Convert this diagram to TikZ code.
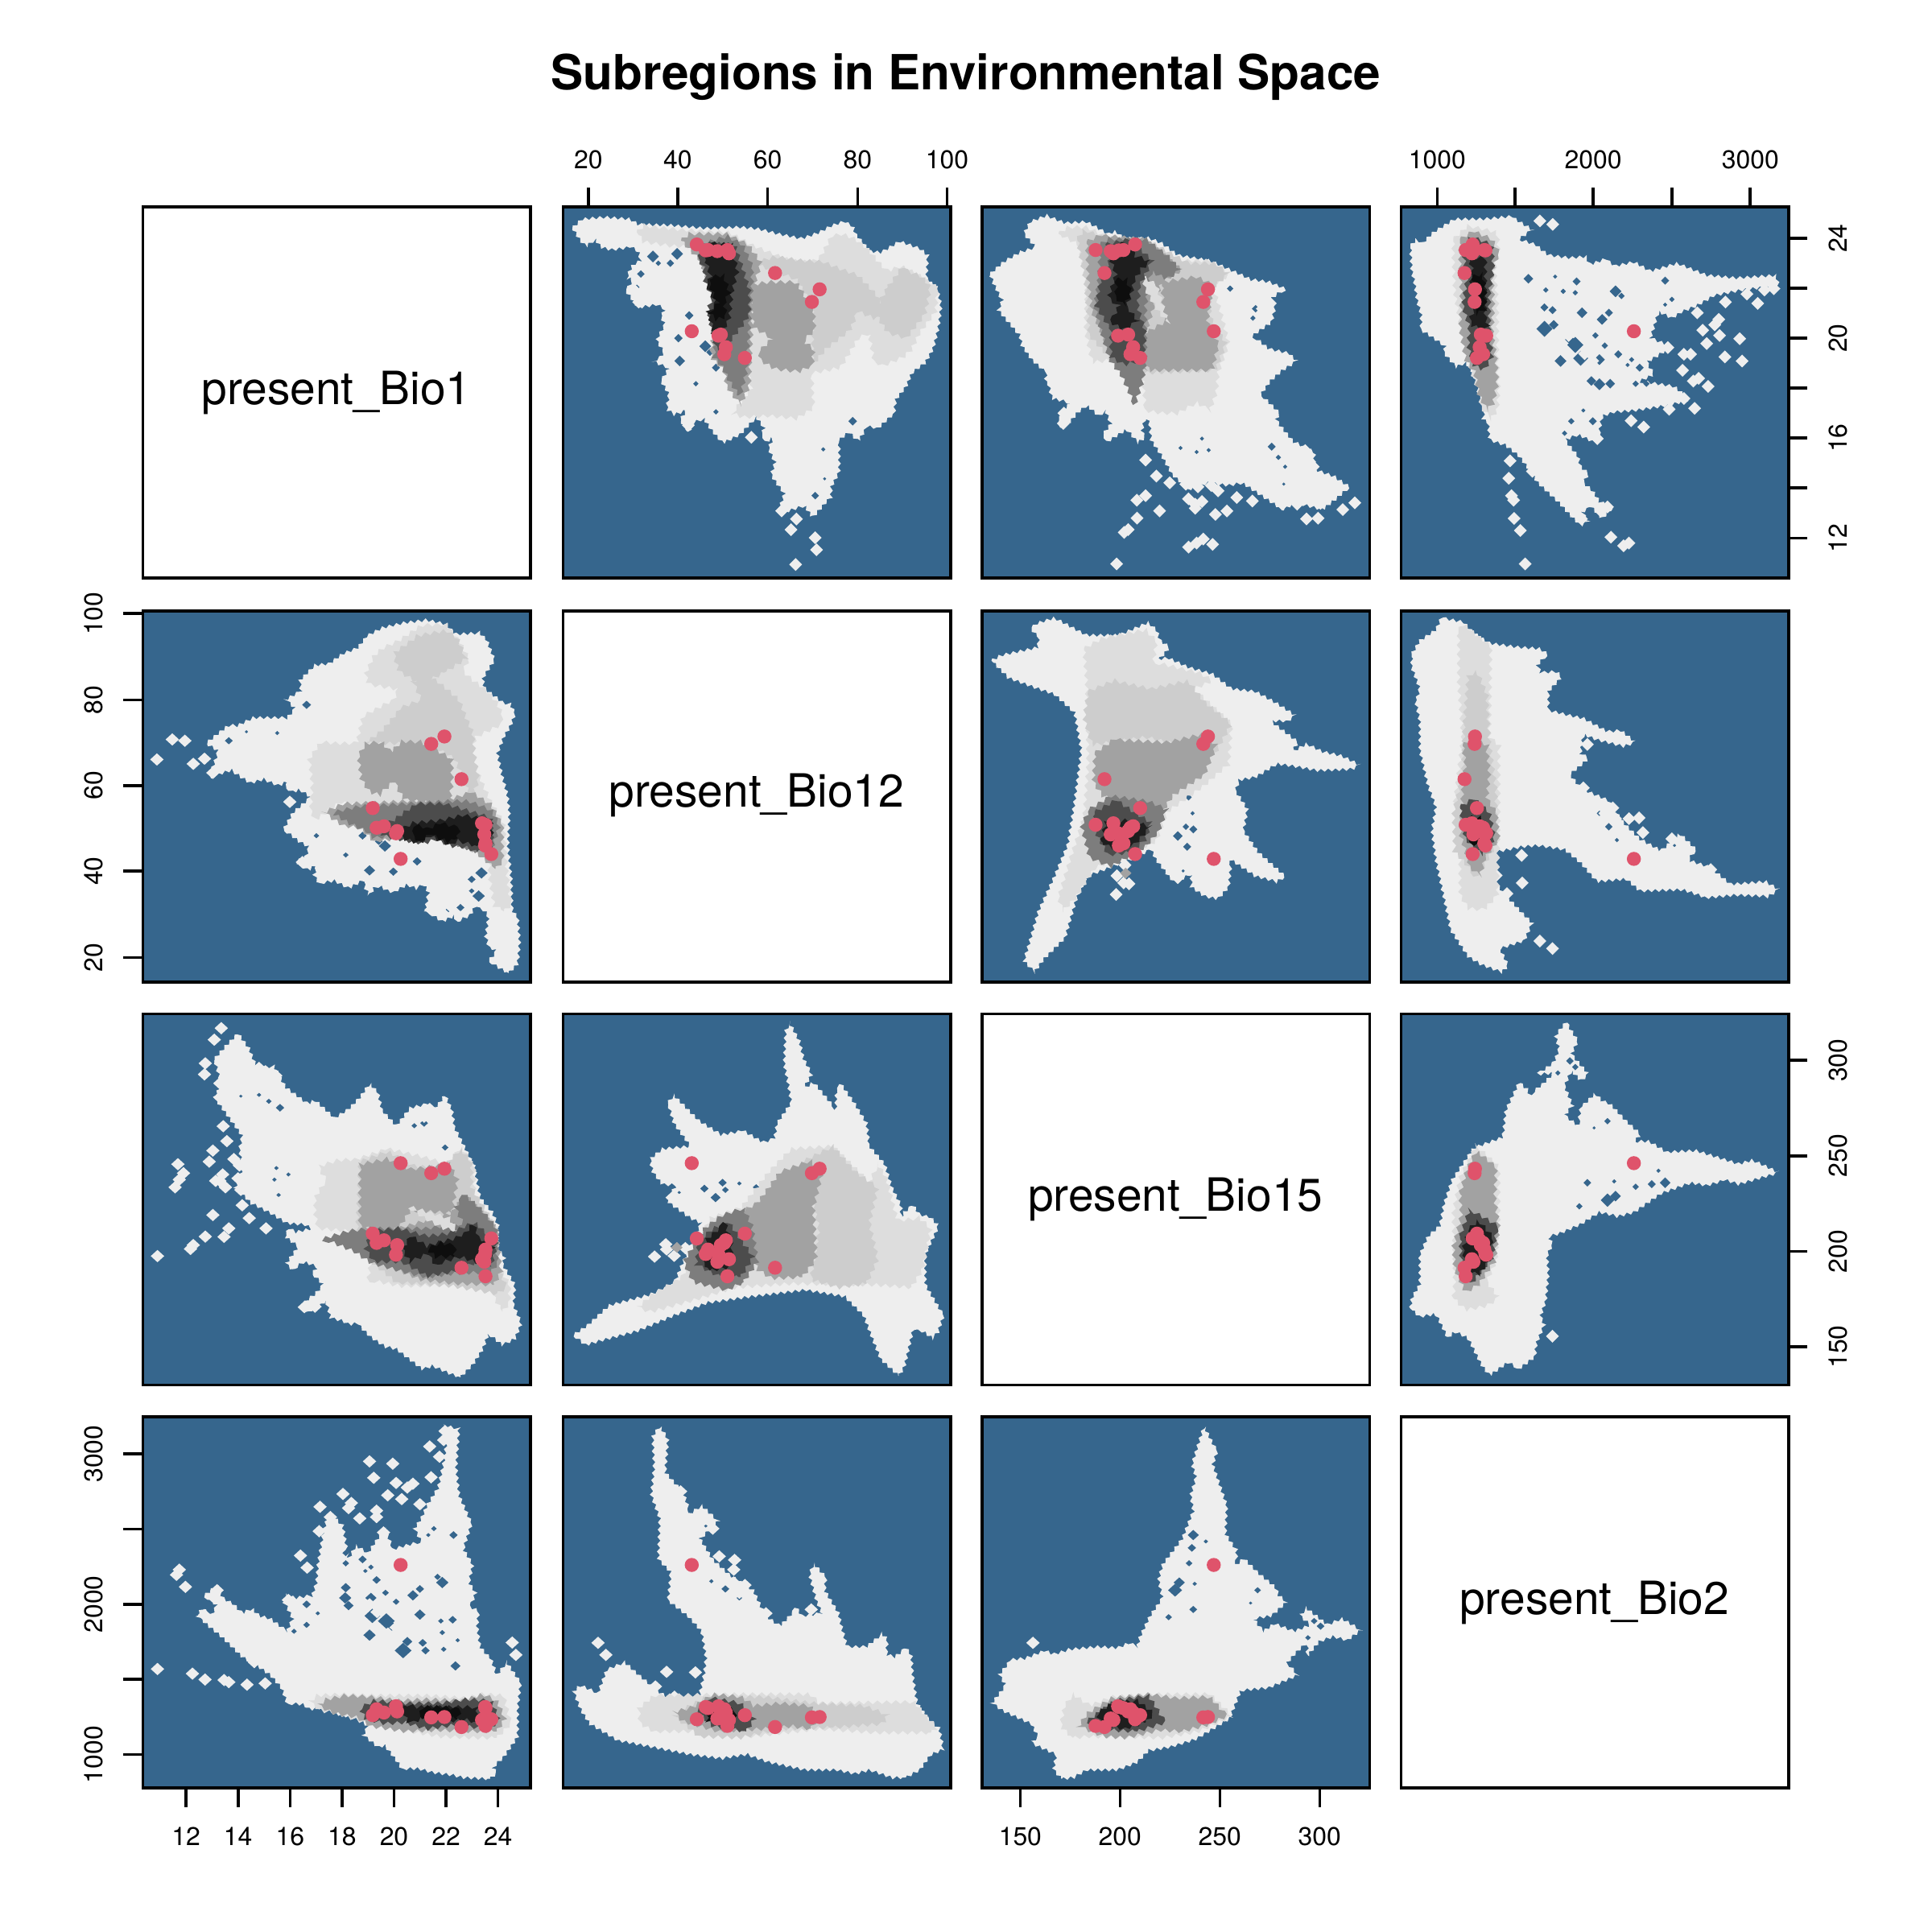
\documentclass[tikz,border=0pt]{standalone}
\usepackage{fontspec}
\setmainfont{TeX Gyre Heros}
\usetikzlibrary{decorations.pathmorphing}
\definecolor{plotBlue}{RGB}{54,102,141}
\definecolor{subRed}{RGB}{223,83,107}
\definecolor{shadeA}{RGB}{238,238,238}
\definecolor{shadeB}{RGB}{221,221,221}
\definecolor{shadeC}{RGB}{205,205,205}
\definecolor{shadeD}{RGB}{162,162,162}
\definecolor{shadeE}{RGB}{125,125,125}
\definecolor{shadeF}{RGB}{76,76,76}
\definecolor{shadeG}{RGB}{30,30,30}
\definecolor{shadeH}{RGB}{14,14,14}
\tikzset{
    shell/.style={
        fill=shadeA,
        decorate,
        decoration={zigzag, segment length=1.9pt, amplitude=0.4pt}
    },
    cloud/.style={
        fill=#1,
        decorate,
        decoration={zigzag, segment length=2.4pt, amplitude=0.5pt}
    },
    gap/.style={
        fill=plotBlue
    },
    plotbox/.style={
        draw=black,
        line width=0.75pt
    },
    axistick/.style={
        draw=black,
        line width=0.75pt
    },
    ticklabel/.style={
        font=\fontsize{6.7}{8}\selectfont,
        inner sep=0pt
    },
    varlabel/.style={
        font=\fontsize{11.95}{14}\selectfont,
        inner sep=0pt,
        anchor=base
    },
    subregion/.style={
        fill=subRed
    }
}
% stray points of a cloud, and the gaps in it
\newcommand{\strays}[1]{
  \foreach \p in {#1}
    \fill[shadeA] \p ++(-24,0) -- ++(24,24) -- ++(24,-24) -- ++(-24,-24) -- cycle;
}
\newcommand{\gaps}[1]{
  \foreach \hx/\hy/\hr in {#1}
    \fill[gap] ({\hx-\hr},\hy) -- (\hx,{\hy+\hr}) -- ({\hx+\hr},\hy) -- (\hx,{\hy-\hr}) -- cycle;
}
% Bio12 against Bio1
\newcommand{\shapeA}{
  \fill[shell] (65,108) -- (100,75) -- (185,68) -- (280,75) -- (310,95) -- (430,98) -- (560,110) -- (690,105) -- (760,112) -- (830,130) -- (920,148) -- (985,125) -- (1030,100) -- (1075,85) -- (1110,100) -- (1120,130) -- (1175,195) -- (1215,200) -- (1285,158) -- (1360,185) -- (1390,210) -- (1385,300) -- (1425,330) -- (1440,400) -- (1430,480) -- (1410,560) -- (1380,612) -- (1330,650) -- (1310,700) -- (1270,750) -- (1265,800) -- (1205,855) -- (1165,850) -- (1130,905) -- (1095,870) -- (1060,900) -- (1060,1020) -- (1030,1075) -- (1030,1110) -- (960,1190) -- (930,1145) -- (870,1165) -- (830,1175) -- (855,1100) -- (825,1060) -- (805,1030) -- (820,985) -- (795,930) -- (815,890) -- (790,905) -- (770,880) -- (780,855) -- (750,815) -- (690,880) -- (625,912) -- (580,860) -- (555,820) -- (515,835) -- (500,870) -- (465,825) -- (490,790) -- (445,805) -- (415,785) -- (425,730) -- (395,680) -- (425,630) -- (395,620) -- (365,605) -- (395,590) -- (405,570) -- (385,540) -- (380,520) -- (410,470) -- (395,440) -- (410,410) -- (380,395) -- (310,405) -- (265,345) -- (290,300) -- (265,295) -- (290,245) -- (320,230) -- (310,195) -- (285,180) -- (210,190) -- (170,180) -- (150,150) -- (115,178) -- (90,150) -- cycle;
  \gaps{365/215/22, 385/240/10, 455/205/22, 430/240/14, 320/280/14, 305/330/10, 500/435/16, 460/520/16, 560/550/22, 578/572/14, 465/605/20, 600/630/15, 525/690/10, 600/795/10, 970/1108/14, 1005/1045/6, 1000/935/8, 1110/830/16}
  \strays{(732,890),(880,1235),(897,1365),(970,1265),(975,1310),(900,1195),(497,845),(845,1165),(312,385),(300,345)}
  \fill[cloud=shadeB] (305,125) -- (330,100) -- (470,115) -- (650,125) -- (730,170) -- (800,200) -- (880,230) -- (950,235) -- (985,225) -- (1030,140) -- (1070,130) -- (1120,150) -- (1170,190) -- (1205,235) -- (1240,270) -- (1290,250) -- (1350,280) -- (1425,330) -- (1420,420) -- (1360,500) -- (1330,560) -- (1300,590) -- (1230,620) -- (1190,610) -- (1170,500) -- (1130,520) -- (1065,630) -- (960,650) -- (960,720) -- (965,780) -- (900,820) -- (800,810) -- (700,815) -- (660,800) -- (730,710) -- (720,640) -- (630,220) -- (540,180) -- (430,175) -- (330,160) -- cycle;
  \fill[cloud=shadeC] (740,240) -- (820,215) -- (920,230) -- (1000,235) -- (1060,260) -- (1130,285) -- (1200,360) -- (1230,410) -- (1200,450) -- (1130,420) -- (1100,490) -- (1010,560) -- (960,620) -- (960,500) -- (960,400) -- (900,300) -- cycle;
  \fill[cloud=shadeC] (1240,330) -- (1290,260) -- (1370,290) -- (1400,330) -- (1380,430) -- (1310,520) -- (1240,500) -- (1190,420) -- cycle;
  \fill[cloud=shadeD] (730,320) -- (800,310) -- (900,310) -- (965,420) -- (968,490) -- (925,530) -- (965,560) -- (960,620) -- (910,645) -- (820,635) -- (770,605) -- (760,570) -- (810,520) -- (740,480) -- (730,400) -- cycle;
  \fill[cloud=shadeD] (470,155) -- (500,130) -- (640,130) -- (720,170) -- (770,240) -- (745,310) -- (735,470) -- (730,560) -- (725,700) -- (690,770) -- (640,700) -- (630,640) -- (580,590) -- (585,530) -- (640,450) -- (580,330) -- (540,230) -- cycle;
  \fill[cloud=shadeE] (540,170) -- (640,140) -- (700,170) -- (735,250) -- (735,320) -- (725,470) -- (715,640) -- (690,740) -- (650,680) -- (620,620) -- (590,590) -- (600,530) -- (640,450) -- (580,330) -- (540,230) -- cycle;
  \fill[cloud=shadeF] (535,220) -- (560,165) -- (670,170) -- (700,260) -- (725,340) -- (725,430) -- (700,470) -- (660,520) -- (640,560) -- (600,560) -- (580,470) -- (570,410) -- (585,370) -- (560,310) -- (555,260) -- cycle;
  \fill[cloud=shadeG] (560,220) -- (575,165) -- (660,170) -- (680,270) -- (660,350) -- (650,450) -- (620,500) -- (590,490) -- (570,425) -- (600,390) -- (565,320) -- (580,290) -- cycle;
  \fill[cloud=shadeH] (590,290) -- (630,285) -- (650,350) -- (630,390) -- (640,440) -- (600,450) -- (575,425) -- (605,390) -- (575,320) -- cycle;
}
% Bio15 against Bio1
\newcommand{\shapeB}{
  \fill[shell] (60,280) -- (110,235) -- (170,200) -- (230,180) -- (185,130) -- (210,85) -- (270,62) -- (340,90) -- (420,85) -- (500,130) -- (530,120) -- (560,150) -- (650,145) -- (700,165) -- (760,210) -- (880,230) -- (1000,285) -- (1030,300) -- (1100,310) -- (1160,335) -- (1130,355) -- (1100,380) -- (1125,395) -- (1110,460) -- (1060,495) -- (1040,510) -- (1100,560) -- (1170,575) -- (1205,605) -- (1150,640) -- (1105,680) -- (1070,730) -- (1140,800) -- (1125,825) -- (1190,905) -- (1270,945) -- (1270,1010) -- (1340,1035) -- (1400,1075) -- (1350,1120) -- (1300,1160) -- (1200,1135) -- (1150,1160) -- (1060,1100) -- (1000,1060) -- (950,1070) -- (870,1060) -- (800,1085) -- (740,1030) -- (700,960) -- (660,900) -- (655,840) -- (640,810) -- (625,870) -- (640,890) -- (610,910) -- (570,860) -- (500,905) -- (480,880) -- (510,840) -- (490,790) -- (465,810) -- (420,770) -- (385,800) -- (360,830) -- (330,855) -- (315,830) -- (335,785) -- (360,760) -- (290,745) -- (280,700) -- (265,680) -- (270,650) -- (215,600) -- (180,550) -- (170,510) -- (90,415) -- (105,380) -- (75,320) -- cycle;
  \gaps{955/335/12, 1050/410/14, 1040/445/10, 1110/925/15, 1135/965/10, 1160/1000/8, 850/895/8, 770/930/8, 830/945/8, 875/938/8, 1155/1065/6}
  \strays{(640,975),(680,1035),(730,1060),(790,1065),(835,1075),(885,1070),(910,1090),(980,1115),(1038,1128),(607,1125),(640,1108),(692,1165),(608,1192),(575,1235),(560,1245),(800,1300),(830,1285),(855,1270),(890,1290),(825,1140),(800,1120),(825,1155),(850,1130),(900,1178),(943,1165),(532,1363),(1150,1140),(1205,1140),(1240,1195),(1283,1192),(1292,1137),(1375,1160),(1420,1135),(1235,940),(1265,1000),(335,800),(333,838),(1105,390),(1075,410)}
  \fill[cloud=shadeB] (315,130) -- (350,105) -- (420,105) -- (500,145) -- (640,150) -- (760,230) -- (880,230) -- (960,280) -- (890,320) -- (920,420) -- (950,540) -- (910,650) -- (905,720) -- (880,790) -- (830,760) -- (760,800) -- (700,800) -- (640,790) -- (630,680) -- (610,640) -- (520,600) -- (440,610) -- (415,490) -- (420,300) -- (390,170) -- cycle;
  \fill[cloud=shadeC] (385,150) -- (410,115) -- (500,150) -- (640,150) -- (800,240) -- (900,240) -- (950,280) -- (880,340) -- (880,440) -- (940,540) -- (900,640) -- (640,650) -- (530,620) -- (430,510) -- (415,310) -- cycle;
  \fill[cloud=shadeD] (700,310) -- (770,300) -- (830,290) -- (890,320) -- (870,460) -- (910,540) -- (890,640) -- (650,640) -- (625,560) -- (640,500) -- (710,460) -- cycle;
  \fill[cloud=shadeD] (420,160) -- (470,135) -- (640,150) -- (775,265) -- (700,310) -- (640,500) -- (640,640) -- (520,600) -- (440,420) -- (425,300) -- cycle;
  \fill[cloud=shadeE] (470,170) -- (500,150) -- (640,150) -- (720,210) -- (770,265) -- (720,300) -- (660,270) -- (640,400) -- (640,600) -- (630,680) -- (600,770) -- (550,660) -- (505,600) -- (470,480) -- (450,400) -- (465,300) -- cycle;
  \fill[cloud=shadeB] (630,290) -- (680,320) -- (725,465) -- (680,410) -- (640,340) -- cycle;
  \fill[cloud=shadeF] (490,170) -- (580,150) -- (665,230) -- (620,320) -- (610,400) -- (640,500) -- (630,600) -- (560,620) -- (510,590) -- (510,490) -- (455,400) -- (470,310) -- (510,220) -- cycle;
  \fill[cloud=shadeG] (510,180) -- (570,160) -- (600,210) -- (660,235) -- (625,260) -- (600,300) -- (585,360) -- (570,400) -- (610,455) -- (560,490) -- (510,460) -- (540,400) -- (500,370) -- (530,280) -- (510,230) -- cycle;
  \fill[cloud=shadeH] (530,300) -- (570,300) -- (585,350) -- (560,400) -- (530,370) -- cycle;
}
% Bio2 against Bio1
\newcommand{\shapeC}{
  \fill[shell] (65,175) -- (88,150) -- (110,165) -- (150,125) -- (230,75) -- (340,75) -- (440,65) -- (520,115) -- (470,150) -- (530,170) -- (580,210) -- (660,220) -- (720,215) -- (735,245) -- (790,225) -- (830,250) -- (900,235) -- (960,270) -- (1060,240) -- (1170,285) -- (1280,295) -- (1430,285) -- (1440,335) -- (1380,330) -- (1300,340) -- (1200,360) -- (1130,400) -- (1080,420) -- (1040,445) -- (990,420) -- (970,490) -- (960,520) -- (1040,550) -- (980,590) -- (945,610) -- (975,655) -- (920,680) -- (1050,700) -- (1105,750) -- (1030,770) -- (900,790) -- (830,795) -- (780,810) -- (770,870) -- (780,900) -- (755,910) -- (690,880) -- (640,900) -- (690,960) -- (700,1000) -- (730,1025) -- (710,1060) -- (745,1090) -- (770,1130) -- (820,1150) -- (780,1195) -- (740,1150) -- (705,1170) -- (730,1205) -- (700,1220) -- (660,1180) -- (620,1135) -- (540,1060) -- (500,1000) -- (470,960) -- (420,920) -- (360,900) -- (355,840) -- (335,820) -- (345,760) -- (320,730) -- (300,650) -- (270,610) -- (235,628) -- (190,575) -- (195,550) -- (130,505) -- (105,490) -- (105,430) -- (90,380) -- (80,310) -- (70,270) -- cycle;
  \gaps{505/298/18, 570/340/10, 635/345/10, 680/350/10, 565/405/15, 595/415/15, 685/308/15, 705/425/20, 565/485/30, 600/470/18, 680/545/30, 700/595/28, 660/525/18, 625/605/22, 830/345/22, 852/362/12, 780/450/20, 805/425/15, 755/510/12, 790/548/12, 840/580/15, 770/600/20, 740/680/18, 770/692/22, 810/690/18, 920/630/15, 890/600/10, 905/690/12, 945/690/12, 665/830/12, 710/790/8, 745/830/15, 1015/305/15, 1040/375/10, 1015/395/8, 875/620/8, 605/290/8, 640/875/10}
  \strays{(548,82),(596,95),(1135,425),(1240,385),(1320,355),(1385,340),(1420,335),(1360,390),(1215,450),(1200,470),(1155,490),(1170,540),(1218,510),(1293,522),(1238,590),(1302,605),(1085,580),(1110,580),(1025,555),(1080,640),(1120,680),(1175,700),(1140,670),(1125,782),(1030,785),(1085,745),(888,828),(935,852),(762,895),(437,978),(432,1043),(520,1017),(442,1108),(450,1125),(452,1193),(475,1238),(703,1195),(775,1165),(800,1150),(813,1263),(860,1295),(880,1285),(493,1363),(655,510),(715,578),(745,605)}
  \fill[cloud=shadeB] (225,150) -- (280,100) -- (390,125) -- (395,200) -- (380,260) -- (390,400) -- (390,600) -- (395,700) -- (390,790) -- (365,820) -- (330,780) -- (320,720) -- (290,640) -- (260,520) -- (230,350) -- (225,220) -- cycle;
  \fill[cloud=shadeD] (250,150) -- (300,120) -- (370,150) -- (395,200) -- (370,270) -- (375,400) -- (370,500) -- (385,600) -- (390,690) -- (375,760) -- (350,790) -- (320,730) -- (305,650) -- (270,600) -- (250,480) -- (255,360) -- (250,240) -- cycle;
  \fill[cloud=shadeF] (260,180) -- (290,140) -- (370,170) -- (375,260) -- (360,350) -- (360,480) -- (370,590) -- (340,640) -- (300,620) -- (280,550) -- (285,480) -- (260,400) -- (275,300) -- cycle;
  \fill[cloud=shadeG] (285,220) -- (345,220) -- (345,330) -- (345,440) -- (355,470) -- (340,490) -- (290,470) -- (285,450) -- (305,410) -- (290,330) -- (295,260) -- cycle;
  \fill[cloud=shadeH] (295,290) -- (335,280) -- (345,340) -- (345,410) -- (310,430) -- (300,400) -- (320,360) -- cycle;
}
% Bio15 against Bio12
\newcommand{\shapeD}{
  \fill[shell] (65,215) -- (100,195) -- (240,165) -- (240,130) -- (212,95) -- (235,75) -- (300,55) -- (420,120) -- (540,120) -- (650,72) -- (680,100) -- (695,140) -- (730,165) -- (700,200) -- (670,210) -- (725,205) -- (800,240) -- (890,265) -- (960,320) -- (1050,330) -- (1130,375) -- (1200,420) -- (1170,440) -- (1105,440) -- (1210,520) -- (1180,560) -- (1240,525) -- (1300,555) -- (1370,570) -- (1440,605) -- (1410,620) -- (1280,625) -- (1200,610) -- (1130,600) -- (1090,625) -- (1050,650) -- (990,660) -- (975,700) -- (1020,770) -- (1005,850) -- (1060,930) -- (1160,1020) -- (1130,1040) -- (1050,1020) -- (960,960) -- (950,1060) -- (910,1105) -- (860,1095) -- (810,1060) -- (810,1010) -- (750,1045) -- (730,1025) -- (700,985) -- (680,960) -- (660,920) -- (600,950) -- (500,990) -- (420,1020) -- (380,1110) -- (340,1250) -- (260,1330) -- (225,1378) -- (185,1335) -- (200,1290) -- (240,1150) -- (300,1020) -- (350,900) -- (375,740) -- (400,550) -- (375,410) -- (300,340) -- (240,320) -- (130,280) -- cycle;
  \gaps{760/870/18, 790/835/12, 818/845/15, 795/910/15, 800/725/12, 815/785/8, 780/1000/6}
  \strays{(563,978),(533,1018),(558,1045),(578,1048),(530,1088),(760,1025)}
  \fill[shadeD] (565,988) -- (587,1008) -- (565,1030) -- (545,1008) -- cycle;
  \fill[cloud=shadeB] (410,170) -- (480,130) -- (640,100) -- (680,140) -- (670,220) -- (840,260) -- (890,290) -- (820,320) -- (960,450) -- (950,600) -- (860,680) -- (720,780) -- (680,890) -- (450,990) -- (380,1100) -- (330,1150) -- (315,1100) -- (360,950) -- (410,800) -- (425,600) -- (420,300) -- cycle;
  \fill[cloud=shadeC] (425,330) -- (520,290) -- (660,320) -- (800,290) -- (860,370) -- (960,450) -- (900,560) -- (640,500) -- (440,530) -- (410,430) -- cycle;
  \fill[cloud=shadeD] (450,560) -- (520,510) -- (720,520) -- (850,490) -- (905,530) -- (860,640) -- (740,720) -- (690,800) -- (480,720) -- (445,670) -- cycle;
  \fill[cloud=shadeE] (430,770) -- (510,720) -- (650,740) -- (720,770) -- (690,850) -- (640,910) -- (510,985) -- (430,950) -- (400,830) -- cycle;
  \fill[cloud=shadeF] (450,780) -- (530,735) -- (580,770) -- (660,820) -- (640,880) -- (590,930) -- (500,940) -- (455,860) -- cycle;
  \fill[cloud=shadeG] (475,890) -- (490,820) -- (570,810) -- (660,835) -- (600,900) -- (510,915) -- cycle;
}
% Bio2 against Bio12
\newcommand{\shapeE}{
  \fill[shell] (70,190) -- (100,140) -- (160,100) -- (180,55) -- (260,70) -- (300,110) -- (360,150) -- (470,165) -- (550,170) -- (575,190) -- (540,230) -- (550,260) -- (610,255) -- (630,275) -- (580,330) -- (580,400) -- (660,420) -- (710,430) -- (800,480) -- (850,475) -- (905,520) -- (860,535) -- (760,510) -- (710,490) -- (700,560) -- (730,580) -- (660,640) -- (700,690) -- (730,705) -- (800,735) -- (860,820) -- (920,880) -- (1000,925) -- (1070,860) -- (1130,920) -- (1100,960) -- (1180,985) -- (1260,1050) -- (1390,1040) -- (1440,1070) -- (1400,1095) -- (1280,1090) -- (1170,1100) -- (1080,1070) -- (920,1075) -- (870,1030) -- (760,1040) -- (700,970) -- (640,920) -- (540,905) -- (480,910) -- (380,930) -- (340,980) -- (410,1080) -- (480,1155) -- (520,1195) -- (490,1260) -- (400,1290) -- (430,1355) -- (405,1378) -- (330,1350) -- (280,1320) -- (215,1220) -- (190,1100) -- (160,960) -- (145,850) -- (160,760) -- (130,680) -- (100,550) -- (100,440) -- (85,370) -- (100,320) -- (70,240) -- cycle;
  \gaps{805/835/14, 835/885/8, 770/785/10, 1050/905/6}
  \strays{(725,528),(1040,880),(480,942),(385,1017),(482,1045),(425,1085),(548,1262),(595,1290),(790,785),(820,765),(830,805),(880,805),(918,802),(932,857),(710,690),(1185,995)}
  \fill[cloud=shadeB] (245,100) -- (265,75) -- (300,110) -- (365,160) -- (360,500) -- (395,530) -- (395,800) -- (390,1090) -- (340,1145) -- (280,1140) -- (250,1090) -- (250,800) -- (230,740) -- (260,500) -- (245,300) -- cycle;
  \fill[cloud=shadeC] (265,450) -- (280,270) -- (315,255) -- (350,340) -- (360,520) -- (385,700) -- (385,900) -- (340,980) -- (310,1020) -- (260,960) -- (230,930) -- (225,780) -- (260,640) -- cycle;
  \fill[cloud=shadeD] (260,530) -- (300,505) -- (350,530) -- (360,640) -- (350,730) -- (385,780) -- (395,880) -- (345,950) -- (325,1020) -- (290,990) -- (250,860) -- (260,700) -- (270,600) -- cycle;
  \fill[cloud=shadeF] (250,760) -- (300,730) -- (360,780) -- (380,880) -- (330,940) -- (270,880) -- cycle;
  \fill[cloud=shadeH] (285,800) -- (330,800) -- (350,850) -- (330,900) -- (290,900) -- cycle;
}
% Bio2 against Bio15
\newcommand{\shapeF}{
  \fill[shell] (65,1130) -- (70,1090) -- (100,1040) -- (100,930) -- (130,860) -- (175,820) -- (190,740) -- (220,650) -- (300,530) -- (410,490) -- (420,390) -- (470,285) -- (500,310) -- (510,330) -- (560,290) -- (600,250) -- (540,255) -- (600,210) -- (620,160) -- (605,110) -- (645,60) -- (690,130) -- (665,180) -- (730,255) -- (700,280) -- (665,240) -- (640,300) -- (670,370) -- (640,410) -- (690,445) -- (700,380) -- (755,325) -- (780,355) -- (810,365) -- (870,430) -- (925,480) -- (900,505) -- (955,505) -- (1020,545) -- (1130,540) -- (1290,590) -- (1340,575) -- (1440,622) -- (1290,665) -- (1240,650) -- (1170,670) -- (1110,660) -- (1000,700) -- (900,770) -- (840,785) -- (770,770) -- (700,815) -- (620,850) -- (580,860) -- (595,890) -- (575,930) -- (580,1000) -- (570,1100) -- (550,1160) -- (565,1190) -- (535,1260) -- (530,1310) -- (470,1355) -- (430,1330) -- (360,1380) -- (330,1340) -- (280,1240) -- (230,1215) -- (205,1240) -- (160,1150) -- (100,1160) -- cycle;
  \gaps{725/660/14, 800/725/25, 830/710/20, 965/665/15, 1015/660/20, 905/675/12, 825/655/8, 695/748/12, 800/430/12, 660/205/14, 680/228/12, 615/250/10, 750/455/6, 990/615/8}
  \strays{(595,1233)}
  \fill[cloud=shadeB] (225,1090) -- (230,1040) -- (225,770) -- (250,640) -- (310,520) -- (395,600) -- (395,790) -- (385,950) -- (350,1030) -- (395,1090) -- (350,1120) -- (270,1135) -- cycle;
  \fill[cloud=shadeD] (250,700) -- (275,610) -- (310,540) -- (385,600) -- (380,720) -- (395,820) -- (380,950) -- (320,1040) -- (270,1070) -- (230,980) -- (225,900) -- (255,780) -- cycle;
  \fill[cloud=shadeF] (250,860) -- (285,760) -- (340,790) -- (390,820) -- (370,940) -- (330,990) -- (290,1040) -- (255,960) -- cycle;
  \fill[cloud=shadeG] (285,830) -- (320,800) -- (370,860) -- (360,950) -- (320,1005) -- (280,990) -- (260,910) -- cycle;
}
\def\subregiondata{89.9/34.5/39.5/18.5, 88.4/42.4/29.3/16.7, 88.3/36.8/35.3/21.8, 88.4/37.4/36.5/21.5, 88.1/39.8/33.2/18.7, 87.5/42.8/33.9/18.3, 82.2/54.7/31.6/16.4, 77.8/66.2/58.3/19.1, 74.4/64.2/57.1/19.0, 66.5/33.2/59.8/60.1, 65.6/40.7/37.7/20.6, 65.3/40.1/35.1/22.0, 62.2/42.0/39.0/20.3, 60.3/41.6/38.3/21.2, 59.3/46.9/40.8/19.6}
\newcommand{\subregions}[4]{
  \foreach \va/\vb/\vc/\vd in \subregiondata
    \fill[subregion] ({#1+3.145*#3},{#2+301-3.01*#4}) circle[radius=5.7];
}
% one pair of mirrored panels
\newcommand{\pairpanel}[7]{
  \fill[plotBlue] (#1,#2) rectangle ++(314.5,301);
  \begin{scope}[shift={(#1,#2)}, x=0.06996pt, y=-0.06986pt, shift={(-30,-30)}]
    #5
  \end{scope}
  \subregions{#1}{#2}{#6}{#7}
  \draw[plotbox] (#1,#2) rectangle ++(314.5,301);
  \fill[plotBlue] (#3,#4) rectangle ++(314.5,301);
  \begin{scope}[shift={(#3,#4+301)}, x={(0pt,0.06696pt)}, y={(-0.07299pt,0pt)}, shift={(-30,-1415)}]
    #5
  \end{scope}
  \subregions{#3}{#4}{#7}{#6}
  \draw[plotbox] (#3,#4) rectangle ++(314.5,301);
}
\begin{document}
\begin{tikzpicture}[x=0.32143pt, y=-0.32143pt]
  \useasboundingbox (0,0) rectangle (1568,1568);
  \node[font=\fontsize{12.65}{15}\selectfont\bfseries, inner sep=0pt, anchor=base] (title) at (784,73) {Subregions in Environmental Space};

  % Panels
  \pairpanel{457}{168}{116}{496}{\shapeA}{\vb}{\va}
  \pairpanel{797}{168}{116}{823}{\shapeB}{\vc}{\va}
  \pairpanel{1137}{168}{116}{1150}{\shapeC}{\vd}{\va}
  \pairpanel{797}{496}{457}{823}{\shapeD}{\vc}{\vb}
  \pairpanel{1137}{496}{457}{1150}{\shapeE}{\vd}{\vb}
  \pairpanel{1137}{823}{797}{1150}{\shapeF}{\vd}{\vc}

  % Diagonal
  \draw[plotbox] (116,168) rectangle ++(314.5,301);
  \draw[plotbox] (457,496) rectangle ++(314.5,301);
  \draw[plotbox] (797,823) rectangle ++(314.5,301);
  \draw[plotbox] (1137,1150) rectangle ++(314.5,301);
  \node[varlabel] (bio1) at (273,328) {present\_Bio1};
  \node[varlabel] (bio12) at (614,655) {present\_Bio12};
  \node[varlabel] (bio15) at (954,983) {present\_Bio15};
  \node[varlabel] (bio2) at (1294,1310) {present\_Bio2};

  % Top axes
  \foreach \x/\t in {477.5/20,550/40,623/60,696/80,768.7/100}{
    \draw[axistick] (\x,168) -- (\x,152);
    \node[ticklabel, anchor=base] at (\x,137) {\t};
  }
  \foreach \x/\t in {1166.4/1000,1229.5/,1293/2000,1357/,1420.5/3000}{
    \draw[axistick] (\x,168) -- (\x,152);
    \node[ticklabel, anchor=base] at (\x,137) {\t};
  }
  % Bottom axes
  \foreach \x/\t in {151/12,193.2/14,235.4/16,277.6/18,319.8/20,362/22,404.2/24}{
    \draw[axistick] (\x,1451) -- (\x,1467);
    \node[ticklabel, anchor=base] at (\x,1498) {\t};
  }
  \foreach \x/\t in {828/150,909/200,990/250,1071/300}{
    \draw[axistick] (\x,1451) -- (\x,1467);
    \node[ticklabel, anchor=base] at (\x,1498) {\t};
  }
  % Left axes
  \foreach \y/\t in {498/100,568/80,637.5/60,707/40,777/20,1180/3000,1241/,1302/2000,1363/,1424/1000}{
    \draw[axistick] (116,\y) -- (100,\y);
    \node[ticklabel, anchor=base, rotate=90] at (83,\y) {\t};
  }
  % Right axes
  \foreach \y/\t in {193.4/24,233.8/,274.5/20,315/,355.5/16,396/,436.8/12,860.6/300,938/250,1015.6/200,1093/150}{
    \draw[axistick] (1451.5,\y) -- (1467,\y);
    \node[ticklabel, anchor=base, rotate=90] at (1499,\y) {\t};
  }
\end{tikzpicture}
\end{document}
